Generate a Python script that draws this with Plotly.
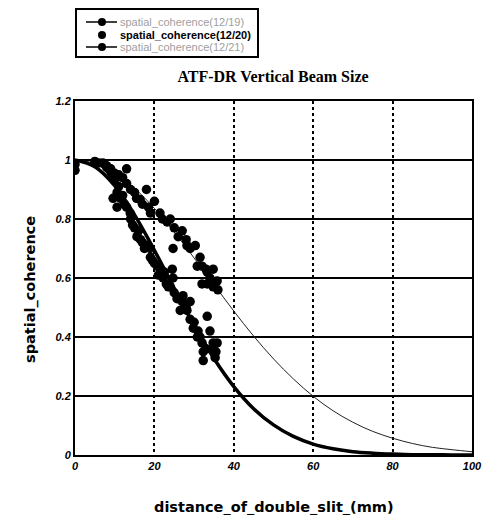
import plotly.graph_objects as go

# ---- data ----
lower_x = [0, 0, 5, 6, 7, 7.5, 8, 8.5, 9, 9.5, 9.6, 10, 10.6, 10.6, 11, 11.5, 12, 12.5, 13, 13.9,
           14, 14.5, 15, 15.6, 16, 16.5, 17, 17.5, 18, 18.9, 19, 19.5, 20, 20.7, 21, 21.5, 22.2,
           22.5, 23, 23.5, 24, 24.5, 24.7, 25, 25.7, 26.5, 27, 27.2, 28, 28.2, 29, 29, 29.8, 30,
           30.8, 31, 31.5, 32, 32.3, 32.3, 33, 33.3, 34, 34.8, 34.8, 35.3, 35.8, 35.5]
lower_y = [0.985, 0.965, 0.995, 0.99, 0.99, 0.985, 0.98, 0.97, 0.96, 0.95, 0.87, 0.93, 0.89, 0.84,
           0.91, 0.87, 0.88, 0.85, 0.84, 0.82, 0.80, 0.78, 0.77, 0.74, 0.76, 0.73, 0.72, 0.70, 0.71,
           0.70, 0.67, 0.66, 0.65, 0.64, 0.61, 0.63, 0.60, 0.62, 0.58, 0.57, 0.57, 0.63, 0.60, 0.55,
           0.53, 0.49, 0.52, 0.54, 0.50, 0.49, 0.52, 0.46, 0.43, 0.45, 0.40, 0.42, 0.40, 0.38, 0.35,
           0.32, 0.36, 0.47, 0.42, 0.38, 0.36, 0.33, 0.38, 0.35]

upper_x = [8, 9, 10, 11, 12, 13, 13, 14, 15, 15.5, 16.4, 17, 18, 18.5, 19, 20, 21.4, 22, 23.2, 24,
           24.7, 25, 26, 27, 28, 28.2, 29, 30.3, 30.8, 31.5, 32, 32, 33, 33.3, 33.3, 34, 34.8, 34.8,
           35.8, 36]
upper_y = [0.975, 0.97, 0.955, 0.95, 0.94, 0.97, 0.92, 0.90, 0.89, 0.87, 0.866, 0.85, 0.90, 0.84,
           0.82, 0.86, 0.82, 0.80, 0.79, 0.80, 0.70, 0.77, 0.74, 0.76, 0.73, 0.71, 0.70, 0.71, 0.64,
           0.67, 0.64, 0.58, 0.63, 0.62, 0.58, 0.60, 0.63, 0.57, 0.59, 0.56]

curve_x = [0, 5, 10, 15, 20, 25, 30, 35, 40, 45, 50, 55, 60, 65, 70, 75, 80, 85, 90, 95, 100]
inner_fit = [1, 0.977, 0.913, 0.814, 0.694, 0.565, 0.440, 0.327, 0.232, 0.157, 0.102, 0.063,
             0.037, 0.021, 0.011, 0.006, 0.003, 0.001, 0.001, 0, 0]
outer_fit = [1, 0.989, 0.956, 0.904, 0.836, 0.756, 0.668, 0.578, 0.488, 0.403, 0.326, 0.258,
             0.199, 0.150, 0.111, 0.080, 0.057, 0.039, 0.026, 0.018, 0.011]

names = ["spatial_coherence(12/19)", "spatial_coherence(12/20)", "spatial_coherence(12/21)"]
x_ticks = [0, 20, 40, 60, 80, 100]
y_ticks = [0, 0.2, 0.4, 0.6, 0.8, 1, 1.2]

W, H = 483, 515
L, R, T, B = 75, 11, 101, 60
PW, PH = W - L - R, H - T - B


def px(xp):  # window pixel -> paper x
    return (xp - L) / PW


def py(yp):  # window pixel -> paper y
    return (H - B - yp) / PH


fig = go.Figure()
mk = dict(color="black", size=9.5)

# fit curves
fig.add_trace(go.Scatter(x=curve_x, y=outer_fit, mode="lines",
                         line=dict(color="#222", width=1, shape="spline"), showlegend=False))
fig.add_trace(go.Scatter(x=curve_x, y=inner_fit, mode="lines",
                         line=dict(color="black", width=3.5, shape="spline"), showlegend=False))
# measured points
fig.add_trace(go.Scatter(x=upper_x, y=upper_y, mode="markers", marker=mk, showlegend=False))
fig.add_trace(go.Scatter(x=lower_x, y=lower_y, mode="markers", marker=mk, showlegend=False))

# ---- legend box drawn like the original ----
shapes = [dict(type="rect", xref="paper", yref="paper", x0=px(76), x1=px(258), y0=py(57), y1=py(9),
               line=dict(color="black", width=2), fillcolor="white", layer="above")]
annotations = []
entry_y = [22, 35, 47]
entry_line = [True, False, True]
entry_style = ['<span style="color:#a0a0a0">{}</span>', "<b>{}</b>", '<span style="color:#a0a0a0">{}</span>']
for i, (yy, has_line) in enumerate(zip(entry_y, entry_line)):
    if has_line:
        shapes.append(dict(type="line", xref="paper", yref="paper", x0=px(86), x1=px(117),
                           y0=py(yy), y1=py(yy), line=dict(color="black", width=1.5), layer="above"))
    shapes.append(dict(type="circle", xref="paper", yref="paper", x0=px(98), x1=px(106),
                       y0=py(yy + 4), y1=py(yy - 4), fillcolor="black",
                       line=dict(color="black", width=0), layer="above"))
    annotations.append(dict(text=entry_style[i].format(names[i]), xref="paper", yref="paper",
                            x=px(118), y=py(yy), xanchor="left", yanchor="middle", showarrow=False,
                            font=dict(family="Liberation Sans", size=11, color="black")))

axtitle = dict(family="DejaVu Sans", color="black", weight="bold")
annotations.append(dict(text="distance_of_double_slit_(mm)", xref="paper", yref="paper",
                        x=px(274), y=py(507), xanchor="center", yanchor="middle", showarrow=False,
                        font=dict(size=14.5, **axtitle)))
annotations.append(dict(text="spatial_coherence", xref="paper", yref="paper", textangle=-90,
                        x=px(30), y=py(290), xanchor="center", yanchor="middle", showarrow=False,
                        font=dict(size=14.5, **axtitle)))

tickfont = dict(family="Liberation Sans", size=11, color="black", weight="bold", style="italic")

fig.update_layout(
    width=W, height=H,
    margin=dict(l=L, r=R, t=T, b=B, autoexpand=False),
    paper_bgcolor="white", plot_bgcolor="white",
    title=dict(text="<b>ATF-DR Vertical Beam Size</b>", x=273 / W, xanchor="center",
               y=1 - 76 / H, yanchor="middle",
               font=dict(family="Liberation Serif", size=16, color="black")),
    xaxis=dict(range=[0, 100], tickvals=x_ticks, showline=True, mirror=True, linecolor="black",
               linewidth=2, showgrid=True, gridcolor="black", gridwidth=1.5, griddash="dot",
               zeroline=False, ticks="", tickfont=tickfont, automargin=False,
               ticklabeloverflow="allow"),
    yaxis=dict(range=[0, 1.2], tickvals=y_ticks, showline=True, mirror=True, linecolor="black",
               linewidth=2, showgrid=True, gridcolor="black", gridwidth=2, zeroline=False,
               ticks="", tickfont=tickfont, automargin=False),
    shapes=shapes,
    annotations=annotations,
    showlegend=False,
)

# remove the browser's default 8px page margin so the figure fills the window exactly
fig.write_html("out.html", config={"displayModeBar": False},
               post_script="document.body.style.margin='0px';")
